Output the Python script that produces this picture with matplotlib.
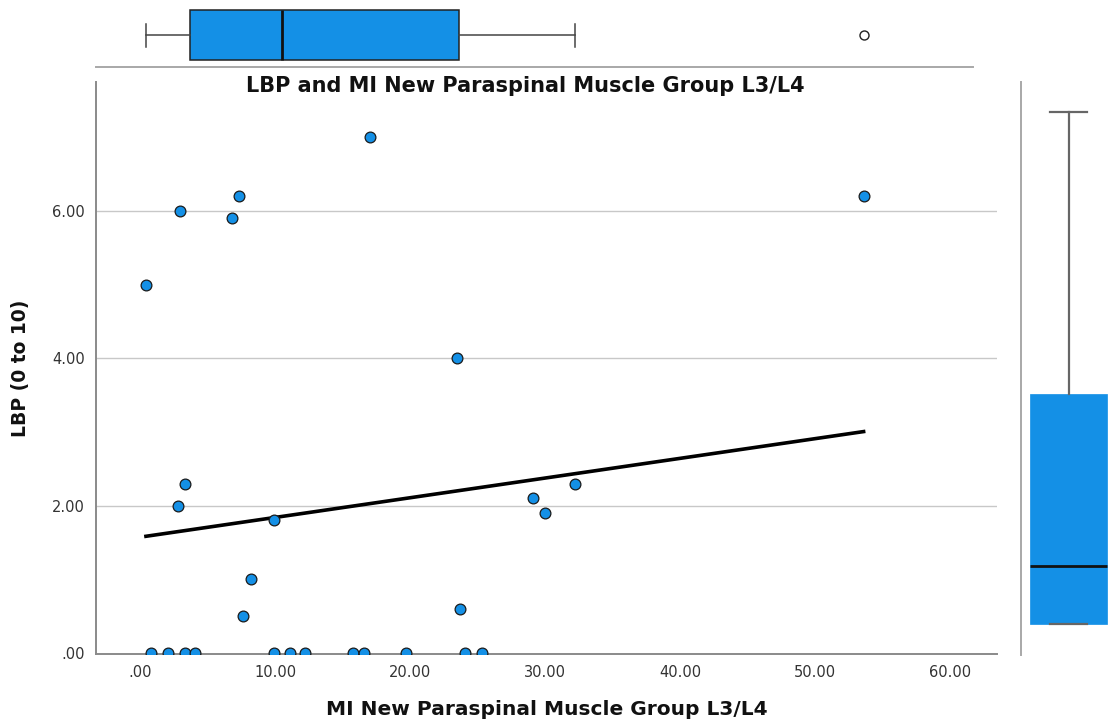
import numpy as np
import matplotlib.pyplot as plt
from matplotlib.ticker import FuncFormatter

# MI of the paraspinal group at L3/L4 against reported low back pain
mi = [0.44, 2.96, 6.8, 7.3, 17.0, 23.5, 53.6, 3.3, 2.8, 9.9, 29.1, 30.0, 32.2, 8.2, 7.6, 23.7,
      0.8, 2.1, 3.3, 4.1, 9.9, 11.1, 12.2, 15.8, 16.6, 19.7, 24.1, 25.3]
lbp = [5.0, 6.0, 5.9, 6.2, 7.0, 4.0, 6.2, 2.3, 2.0, 1.8, 2.1, 1.9, 2.3, 1.0, 0.5, 0.6,
       0, 0, 0, 0, 0, 0, 0, 0, 0, 0, 0, 0]

x_ticks = [0, 10, 20, 30, 40, 50, 60]
y_ticks = [0, 2, 4, 6]

title = "LBP and MI New Paraspinal Muscle Group L3/L4"
xlabel = "MI New Paraspinal Muscle Group L3/L4"
ylabel = "LBP (0 to 10)"

blue = "#1490e6"
W, H = 1112, 728
XPX = 13.5   # pixels per MI unit, shared by scatter and top box


def tukey_stats(v):
    # hinges the SPSS way: medians of the lower and upper halves
    v = np.sort(np.asarray(v, dtype=float))
    n = len(v)
    half = (n + 1) // 2
    q1 = np.median(v[:half])
    q3 = np.median(v[n - half:])
    iqr = q3 - q1
    lo_f, hi_f = q1 - 1.5 * iqr, q3 + 1.5 * iqr
    inside = v[(v >= lo_f) & (v <= hi_f)]
    return dict(med=np.median(v), q1=q1, q3=q3, whislo=inside.min(), whishi=inside.max(),
                fliers=v[(v < lo_f) | (v > hi_f)])


def fmt(v, pos):
    s = "%.2f" % v
    return s[1:] if s.startswith("0") else s


def px_axes(l, t, r, b):
    return fig.add_axes([l / W, 1 - b / H, (r - l) / W, (b - t) / H])


fig = plt.figure(figsize=(W / 100, H / 100), dpi=100)
plt.rcParams['font.family'] = 'DejaVu Sans'

# main scatter
ax = px_axes(96, 82, 997, 654)
ax.set_xlim(-3.26, -3.26 + 901 / XPX)
ax.set_ylim(-0.014, 7.75)
for s in ["top", "right"]:
    ax.spines[s].set_visible(False)
for s in ["left", "bottom"]:
    ax.spines[s].set_color("#8a8a8a")
    ax.spines[s].set_linewidth(1.4)
ax.set_xticks(x_ticks)
ax.set_yticks(y_ticks)
ax.xaxis.set_major_formatter(FuncFormatter(fmt))
ax.yaxis.set_major_formatter(FuncFormatter(fmt))
ax.tick_params(length=0, labelsize=10.5, colors="#333333", pad=8)
for yv in y_ticks[1:]:
    ax.axhline(yv, color="#c8c8c8", lw=1.0, zorder=0)

ax.scatter(mi, lbp, s=60, color=blue, edgecolor="#1a1a1a", linewidth=0.9, zorder=3)

slope, icpt = np.polyfit(mi, lbp, 1)
xs = np.array([min(mi), max(mi)])
ax.plot(xs, icpt + slope * xs, color="black", lw=2.6, zorder=2)

ax.set_xlabel(xlabel, fontsize=14.5, fontweight="bold", labelpad=14, color="#111111")
ax.set_ylabel(ylabel, fontsize=13.5, fontweight="bold", labelpad=16, color="#111111")
fig.text(525 / W, 1 - 86 / H, title, ha="center", va="center", fontsize=15,
         fontweight="bold", color="#111111")

# marginal boxplot of MI along the top
axt = px_axes(96, 0, 973, 67)
axt.set_xlim(-3.26, -3.26 + 877 / XPX)
axt.set_ylim(0, 1.34)
axt.bxp([tukey_stats(mi)], positions=[0.64], widths=1.0, orientation="horizontal",
        patch_artist=True, capwidths=0.46,
        boxprops=dict(facecolor=blue, edgecolor="#222222", lw=1.1),
        medianprops=dict(color="#111111", lw=2.0),
        whiskerprops=dict(color="#444444", lw=1.1),
        capprops=dict(color="#444444", lw=1.1),
        flierprops=dict(marker="o", markersize=6.5, markerfacecolor="white",
                        markeredgecolor="#222222", markeredgewidth=1.0))
axt.set_xticks([])
axt.set_yticks([])
for s in ["top", "right", "left"]:
    axt.spines[s].set_visible(False)
axt.spines["bottom"].set_color("#a8a8a8")
axt.spines["bottom"].set_linewidth(1.4)

# marginal boxplot of LBP on the right
axr = px_axes(1021, 82, 1112, 655)
axr.set_ylim(-0.422, 7.41)
axr.set_xlim(0, 91 / 77)
axr.bxp([tukey_stats(lbp)], positions=[47.5 / 77], widths=1.0, orientation="vertical",
        patch_artist=True, capwidths=0.49,
        boxprops=dict(facecolor=blue, edgecolor=blue, lw=0.5),
        medianprops=dict(color="#111111", lw=2.0),
        whiskerprops=dict(color="#666666", lw=1.6),
        capprops=dict(color="#666666", lw=1.6),
        flierprops=dict(marker="o", markerfacecolor="white", markeredgecolor="#222222"))
axr.set_xticks([])
axr.set_yticks([])
for s in ["top", "right", "bottom"]:
    axr.spines[s].set_visible(False)
axr.spines["left"].set_color("#a8a8a8")
axr.spines["left"].set_linewidth(1.4)

fig.savefig("out.png", dpi=100)
